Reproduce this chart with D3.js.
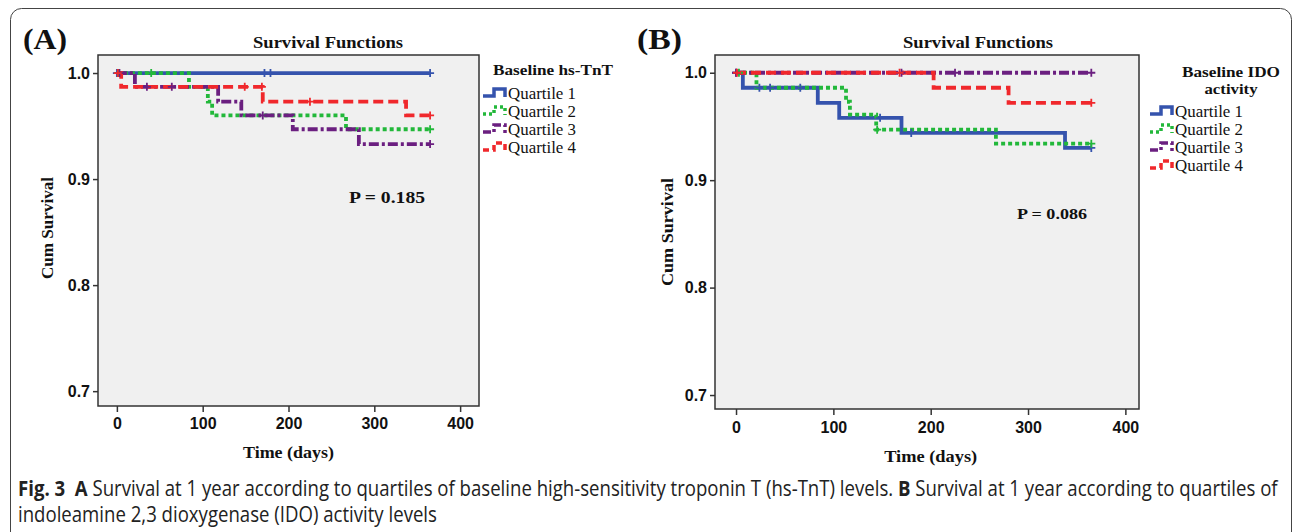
<!DOCTYPE html>
<html lang="en">
<head>
<meta charset="UTF-8">
<title>Survival Functions</title>
<script src="https://d3js.org/d3.v7.min.js"></script>
<style>
  body { margin: 0; background: #fff; }
  svg { display: block; }
  .serif { font-family: "Liberation Serif", "Times New Roman", serif; font-weight: bold; fill: #111; }
  .tick text { font-family: "Liberation Sans", Arial, sans-serif; font-weight: bold; font-size: 16px; fill: #111; }
  .tick line { stroke: #333; stroke-width: 1.5; }
</style>
</head>
<body>
<div id="chart"></div>
<script>

// shared labels
const quartiles = ["Quartile 1", "Quartile 2", "Quartile 3", "Quartile 4"];
const xTicks = [0, 100, 200, 300, 400];
const yTicks = [0.7, 0.8, 0.9, 1.0];

// (A) baseline hs-TnT : [time, cum survival] at each step
const tntQ1 = [[0, 1], [365, 1]];
const tntQ2 = [[0, 1], [84, 0.987], [106, 0.973], [111, 0.960], [267, 0.947], [365, 0.947]];
const tntQ3 = [[0, 1], [21, 0.987], [118, 0.973], [145, 0.960], [205, 0.947], [282, 0.933], [365, 0.933]];
const tntQ4 = [[0, 1], [5, 0.987], [170, 0.973], [337, 0.960], [365, 0.960]];
// censored times
const tntQ1Cens = [0, 172, 179, 365];
const tntQ2Cens = [2, 40, 365];
const tntQ3Cens = [3, 35, 64, 170, 365];
const tntQ4Cens = [1, 149, 169, 225, 365];

// (B) baseline IDO activity
const idoQ1 = [[0, 1], [7, 0.986], [84, 0.972], [106, 0.958], [170, 0.944], [338, 0.930], [365, 0.930]];
const idoQ2 = [[0, 1], [21, 0.986], [113, 0.973], [117, 0.961], [144, 0.947], [267, 0.934], [365, 0.934]];
const idoQ3 = [[0, 1], [365, 1]];
const idoQ4 = [[0, 1], [203, 0.986], [280, 0.972], [365, 0.972]];
const idoQ1Cens = [0, 24, 35, 66, 148, 180, 365];
const idoQ2Cens = [3, 145, 365];
const idoQ3Cens = [0, 170, 225, 365];
const idoQ4Cens = [1, 168, 365];

const colors = ["#3553ad", "#22b83a", "#6b1f80", "#f0282c"];
const dashes = [null, "4,3", "10,3,3,3", "10,5"];
const legendDashes = [null, "3,3", "8,3,3,3", "6,4"];

const W = 1293, H = 532;
const svg = d3.select("#chart").append("svg")
    .attr("width", W)
    .attr("height", H);

// outer frame
svg.append("rect")
    .attr("x", 10.5).attr("y", 8.5)
    .attr("width", 1281).attr("height", 620)
    .attr("rx", 11)
    .attr("fill", "none")
    .attr("stroke", "#444")
    .attr("stroke-width", 1);

// bold serif label stretched to the width seen in the picture
function serifText(x, y, txt, size, len, anchor) {
  return svg.append("text").attr("class", "serif")
      .attr("x", x).attr("y", y)
      .attr("text-anchor", anchor || "start")
      .attr("textLength", len)
      .attr("lengthAdjust", "spacingAndGlyphs")
      .style("font-size", size)
      .text(txt);
}

function drawPanel(p) {
  const x = d3.scaleLinear().domain(p.xDomain).range([p.left, p.right]);
  const y = d3.scaleLinear().domain(p.yDomain).range([p.bottom, p.top]);

  serifText(p.tagX, 49, p.tag, "30px", p.tagW);
  serifText(p.titleX, 48, "Survival Functions", "17px", 150, "middle");

  svg.append("rect")
      .attr("x", p.left).attr("y", p.top)
      .attr("width", p.right - p.left).attr("height", p.bottom - p.top)
      .attr("fill", "#f0f0f0")
      .attr("stroke", "#333")
      .attr("stroke-width", 1.5);

  const xAxis = svg.append("g")
      .attr("transform", `translate(0,${p.bottom})`)
      .call(d3.axisBottom(x).tickValues(xTicks).tickSize(6).tickPadding(p.xPad));
  xAxis.select(".domain").remove();

  const yAxis = svg.append("g")
      .attr("transform", `translate(${p.left},0)`)
      .call(d3.axisLeft(y).tickValues(yTicks).tickSize(5).tickPadding(3).tickFormat(d3.format(".1f")));
  yAxis.select(".domain").remove();

  serifText((x(0) + x(400)) / 2, p.bottom + p.xLabelDy, "Time (days)", "17px", p.timeW, "middle");

  svg.append("text").attr("class", "serif")
      .attr("transform", `translate(${p.yLabelX},${p.yLabelY}) rotate(-90)`)
      .attr("text-anchor", "middle")
      .attr("dy", "0.35em")
      .attr("textLength", p.cumW)
      .attr("lengthAdjust", "spacingAndGlyphs")
      .style("font-size", "17px")
      .text("Cum Survival");

  const line = d3.line()
      .x(d => x(d[0]))
      .y(d => y(d[1]))
      .curve(d3.curveStepAfter);

  p.series.forEach((s, i) => {
    svg.append("path")
        .datum(s)
        .attr("d", line)
        .attr("fill", "none")
        .attr("stroke", colors[i])
        .attr("stroke-width", 3.8)
        .attr("stroke-dasharray", dashes[i]);
  });

  // censor marks
  p.censored.forEach((times, i) => {
    const s = p.series[i];
    const surv = t => {
      let v = s[0][1];
      s.forEach(d => { if (d[0] <= t) v = d[1]; });
      return v;
    };
    svg.append("g").selectAll("path")
      .data(times)
      .join("path")
        .attr("d", t => {
          const cx = x(t), cy = y(surv(t));
          return `M${cx - 4},${cy}H${cx + 4}M${cx},${cy - 4}V${cy + 4}`;
        })
        .attr("stroke", colors[i])
        .attr("stroke-width", 1.8);
  });

  serifText(p.pX, p.pY, p.pText, p.pSize, p.pW);

  // legend
  p.legendTitle.forEach((t, k) => {
    serifText(p.legendTitleX, p.legendTitleY + k * 17, t, "15px", p.legendTitleW[k], p.legendAnchor);
  });
  quartiles.forEach((q, i) => {
    const ly = p.legendY + i * 18;
    svg.append("path")
        .attr("d", `M${p.legendX},${ly + 3}H${p.legendX + 11}V${ly - 4}H${p.legendX + 22}V${ly + 4}`)
        .attr("fill", "none")
        .attr("stroke", colors[i])
        .attr("stroke-width", 3.5)
        .attr("stroke-dasharray", legendDashes[i]);
    svg.append("text")
        .attr("x", p.legendX + 25).attr("y", ly)
        .attr("dy", "0.35em")
        .attr("textLength", 68)
        .attr("lengthAdjust", "spacingAndGlyphs")
        .style("font-family", "'Liberation Serif', 'Times New Roman', serif")
        .style("font-size", "17.5px")
        .style("fill", "#111")
        .text(q);
  });
}

drawPanel({
  tag: "(A)", tagX: 23, tagW: 44, titleX: 328,
  left: 98, right: 479, top: 55, bottom: 406,
  xDomain: [-22, 422], yDomain: [0.686, 1.017],
  xPad: 6, xLabelDy: 52, timeW: 91,
  yLabelX: 47, yLabelY: 228, cumW: 102,
  series: [tntQ1, tntQ2, tntQ3, tntQ4],
  censored: [tntQ1Cens, tntQ2Cens, tntQ3Cens, tntQ4Cens],
  pText: "P = 0.185", pX: 349, pY: 203, pSize: "16px", pW: 76,
  legendTitle: ["Baseline hs-TnT"], legendTitleW: [120],
  legendTitleX: 493, legendTitleY: 75, legendAnchor: "start",
  legendX: 483, legendY: 93
});

drawPanel({
  tag: "(B)", tagX: 637, tagW: 45, titleX: 978,
  left: 715, right: 1139, top: 55, bottom: 409,
  xDomain: [-21.6, 414], yDomain: [0.687, 1.0165],
  xPad: 7, xLabelDy: 53, timeW: 93,
  yLabelX: 667, yLabelY: 232, cumW: 108,
  series: [idoQ1, idoQ2, idoQ3, idoQ4],
  censored: [idoQ1Cens, idoQ2Cens, idoQ3Cens, idoQ4Cens],
  pText: "P = 0.086", pX: 1017, pY: 219, pSize: "15px", pW: 70,
  legendTitle: ["Baseline IDO", "activity"], legendTitleW: [98, 53],
  legendTitleX: 1231, legendTitleY: 77, legendAnchor: "middle",
  legendX: 1150, legendY: 111
});

// caption
const cap1 = svg.append("text")
    .style("font-family", "'Open Sans', 'Noto Sans', sans-serif")
    .style("font-size", "21px")
    .style("fill", "#222");
cap1.append("tspan").style("font-weight", "bold").text("Fig. 3");
cap1.append("tspan").text("\u00a0\u00a0");
cap1.append("tspan").style("font-weight", "bold").text("A");
cap1.append("tspan").text(" Survival at 1 year according to quartiles of baseline high-sensitivity troponin T (hs-TnT) levels. ");
cap1.append("tspan").style("font-weight", "bold").text("B");
cap1.append("tspan").text(" Survival at 1 year according to quartiles of");

const cap2 = svg.append("text")
    .style("font-family", "'Open Sans', 'Noto Sans', sans-serif")
    .style("font-size", "21px")
    .style("fill", "#222")
    .text("indoleamine 2,3 dioxygenase (IDO) activity levels");

const k = 1260 / cap1.node().getComputedTextLength();
cap1.attr("transform", `translate(18,496) scale(${k},1)`);
cap2.attr("transform", `translate(18,522) scale(${k},1)`);

</script>
</body>
</html>
